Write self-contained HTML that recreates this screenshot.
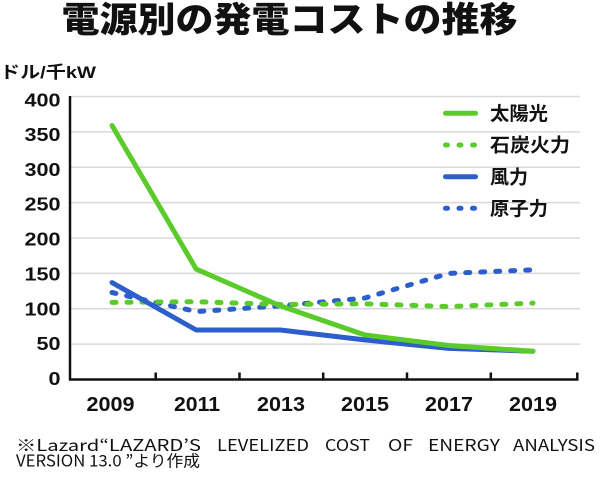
<!DOCTYPE html>
<html>
<head>
<meta charset="utf-8">
<style>
  html, body { margin: 0; padding: 0; background: #fff; }
  svg { display: block; }
  .num { font-family: "Liberation Sans", "Noto Sans CJK JP", sans-serif; font-weight: bold; fill: #111; }
</style>
</head>
<body>
<svg width="600" height="478" viewBox="0 0 600 478" xmlns="http://www.w3.org/2000/svg">
  <rect x="0" y="0" width="600" height="478" fill="#fff"/>

  <!-- Title -->
  <text x="61.5" y="32" font-family="'Noto Sans CJK JP', sans-serif" font-weight="900" font-size="35" fill="#111" textLength="456" lengthAdjust="spacingAndGlyphs">電源別の発電コストの推移</text>

  <!-- Unit label -->
  <text x="0" y="78" font-family="'Liberation Sans', 'Noto Sans CJK JP', sans-serif" font-weight="bold" font-size="17" fill="#111" textLength="96" lengthAdjust="spacingAndGlyphs">ドル/千kW</text>

  <!-- Gridlines -->
  <g stroke="#d9d9d9" stroke-width="1.5">
    <line x1="70" y1="96.5" x2="580" y2="96.5"/>
    <line x1="70" y1="131.9" x2="580" y2="131.9"/>
    <line x1="70" y1="167.3" x2="580" y2="167.3"/>
    <line x1="70" y1="202.6" x2="580" y2="202.6"/>
    <line x1="70" y1="238" x2="580" y2="238"/>
    <line x1="70" y1="273.4" x2="580" y2="273.4"/>
    <line x1="70" y1="308.75" x2="580" y2="308.75"/>
    <line x1="70" y1="344.1" x2="580" y2="344.1"/>
  </g>

  <!-- Y labels -->
  <g class="num" font-size="18.5" text-anchor="end">
    <text x="60.5" y="106.3" textLength="36" lengthAdjust="spacingAndGlyphs">400</text>
    <text x="60.5" y="141.1" textLength="36" lengthAdjust="spacingAndGlyphs">350</text>
    <text x="60.5" y="175.9" textLength="36" lengthAdjust="spacingAndGlyphs">300</text>
    <text x="60.5" y="210.7" textLength="36" lengthAdjust="spacingAndGlyphs">250</text>
    <text x="60.5" y="245.6" textLength="36" lengthAdjust="spacingAndGlyphs">200</text>
    <text x="60.5" y="280.5" textLength="36" lengthAdjust="spacingAndGlyphs">150</text>
    <text x="60.5" y="315.3" textLength="36" lengthAdjust="spacingAndGlyphs">100</text>
    <text x="60.5" y="350.2" textLength="24" lengthAdjust="spacingAndGlyphs">50</text>
    <text x="60.5" y="385" textLength="12" lengthAdjust="spacingAndGlyphs">0</text>
  </g>

  <!-- Axes -->
  <g stroke="#111" stroke-width="2.5" fill="none">
    <line x1="70" y1="96" x2="70" y2="380.5"/>
    <line x1="69" y1="379.5" x2="578.5" y2="379.5"/>
    <line x1="155.7" y1="372.5" x2="155.7" y2="379.5"/>
    <line x1="239.5" y1="372.5" x2="239.5" y2="379.5"/>
    <line x1="323.2" y1="372.5" x2="323.2" y2="379.5"/>
    <line x1="407" y1="372.5" x2="407" y2="379.5"/>
    <line x1="490.8" y1="372.5" x2="490.8" y2="379.5"/>
    <line x1="577.3" y1="372.5" x2="577.3" y2="380.5"/>
  </g>

  <!-- X labels -->
  <g class="num" font-size="20.5" text-anchor="middle">
    <text x="110.5" y="411" textLength="48" lengthAdjust="spacingAndGlyphs">2009</text>
    <text x="197" y="411" textLength="46" lengthAdjust="spacingAndGlyphs">2011</text>
    <text x="281" y="411" textLength="48" lengthAdjust="spacingAndGlyphs">2013</text>
    <text x="365" y="411" textLength="48" lengthAdjust="spacingAndGlyphs">2015</text>
    <text x="449" y="411" textLength="48" lengthAdjust="spacingAndGlyphs">2017</text>
    <text x="533" y="411" textLength="48" lengthAdjust="spacingAndGlyphs">2019</text>
  </g>

  <!-- Series -->
  <polyline fill="none" stroke="#2d5fcc" stroke-width="5" stroke-linecap="round" stroke-linejoin="round" stroke-dasharray="4 11"
    points="112,292.5 196.2,311.6 280.4,305.9 364.6,298.1 448.8,273.4 533,269.8"/>
  <polyline fill="none" stroke="#5acb2a" stroke-width="5" stroke-linecap="round" stroke-linejoin="round" stroke-dasharray="4 11"
    points="112,302.4 196.2,301.7 280.4,304.5 364.6,303.8 448.8,306.6 533,303.1"/>
  <polyline fill="none" stroke="#2d5fcc" stroke-width="5" stroke-linecap="round" stroke-linejoin="round"
    points="112,282.6 196.2,330 280.4,330 364.6,339.9 448.8,348.4 533,351.2"/>
  <polyline fill="none" stroke="#5acb2a" stroke-width="5" stroke-linecap="round" stroke-linejoin="round"
    points="112,125.5 196.2,269.1 280.4,305.9 364.6,334.9 448.8,345.5 533,351.2"/>

  <!-- Legend -->
  <g stroke-width="5" stroke-linecap="round" fill="none">
    <line x1="445.5" y1="113.3" x2="475.5" y2="113.3" stroke="#5acb2a"/>
    <line x1="445.5" y1="145" x2="477" y2="145" stroke="#5acb2a" stroke-dasharray="2 11.5"/>
    <line x1="445.5" y1="176.7" x2="475.5" y2="176.7" stroke="#2d5fcc"/>
    <line x1="445.5" y1="208.3" x2="477" y2="208.3" stroke="#2d5fcc" stroke-dasharray="2 11.5"/>
  </g>
  <g font-family="'Noto Sans CJK JP', sans-serif" font-weight="bold" font-size="19" fill="#111">
    <text x="490" y="120" textLength="58" lengthAdjust="spacingAndGlyphs">太陽光</text>
    <text x="490" y="151.7" textLength="80" lengthAdjust="spacingAndGlyphs">石炭火力</text>
    <text x="490" y="183.4" textLength="38" lengthAdjust="spacingAndGlyphs">風力</text>
    <text x="490" y="215" textLength="58" lengthAdjust="spacingAndGlyphs">原子力</text>
  </g>

  <!-- Footnote -->
  <g font-family="'Noto Sans CJK JP', sans-serif" font-size="16" fill="#111">
    <text x="16" y="451" textLength="185" lengthAdjust="spacingAndGlyphs">※Lazard“LAZARD’S</text>
    <text x="217" y="451" textLength="92" lengthAdjust="spacingAndGlyphs">LEVELIZED</text>
    <text x="325" y="451" textLength="45" lengthAdjust="spacingAndGlyphs">COST</text>
    <text x="388" y="451" textLength="25" lengthAdjust="spacingAndGlyphs">OF</text>
    <text x="428" y="451" textLength="72" lengthAdjust="spacingAndGlyphs">ENERGY</text>
    <text x="513" y="451" textLength="82" lengthAdjust="spacingAndGlyphs">ANALYSIS</text>
    <text x="16" y="466.5" textLength="184" lengthAdjust="spacingAndGlyphs">VERSION 13.0 ”より作成</text>
  </g>
</svg>
</body>
</html>
